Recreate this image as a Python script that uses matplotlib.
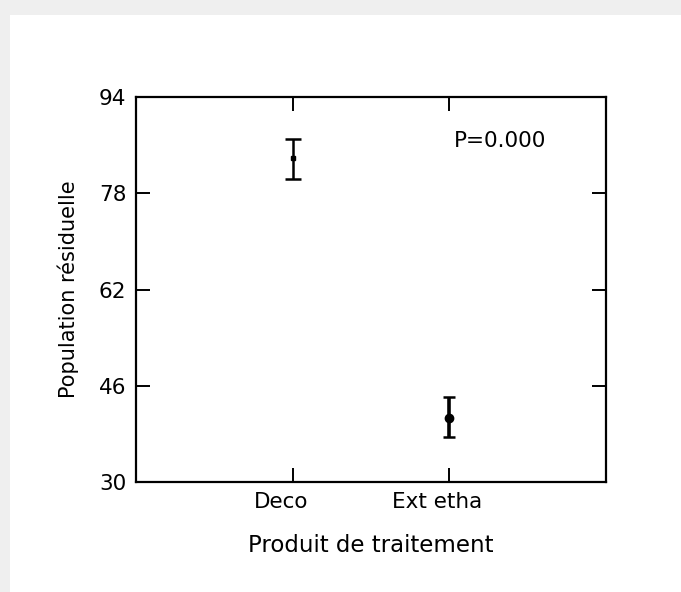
import numpy as np
import matplotlib.pyplot as plt
import matplotlib.transforms as mtransforms
from matplotlib.patches import Rectangle

# data
produits = ['Deco', 'Ext etha']
moyennes = [83.9, 40.6]
err_haut = [3.1, 3.5]
err_bas = [3.5, 3.1]
yticks = [30, 46, 62, 78, 94]

plt.rcParams['font.family'] = ['DejaVu Sans']

fig = plt.figure(figsize=(6.81, 5.92), dpi=100)
fig.patch.set_facecolor('#efefef')
# white card behind the chart
fig.patches.append(Rectangle((10/681, 0), 1.0, 1 - 15/592, transform=fig.transFigure,
                             facecolor='white', edgecolor='none', zorder=-10))

ax = fig.add_axes([136/681, 1 - 482/592, 470/681, 385/592])
x = np.arange(1, len(produits) + 1)

ax.errorbar(x[0], moyennes[0], yerr=[[err_bas[0]], [err_haut[0]]], fmt='s', ms=3.5,
            color='black', ecolor='black', elinewidth=1.8, capsize=5.5, capthick=1.8)
ax.errorbar(x[1], moyennes[1], yerr=[[err_bas[1]], [err_haut[1]]], fmt='o', ms=6,
            color='black', ecolor='black', elinewidth=2.6, capsize=4, capthick=1.8)

ax.set_xlim(0, 3)
ax.set_ylim(30, 94)
ax.set_xticks(x)
ax.set_xticklabels(produits)
ax.set_yticks(yticks)
ax.tick_params(direction='in', length=10, width=1.4, top=True, right=True,
               labelsize=15.5, pad=7)
for s in ax.spines.values():
    s.set_linewidth(1.6)

# category labels sit a little left of their ticks in the original
shift = mtransforms.ScaledTranslation(-12/100, 0, fig.dpi_scale_trans)
for lab in ax.get_xticklabels():
    lab.set_transform(lab.get_transform() + shift)

ax.set_xlabel('Produit de traitement', fontsize=16.5, labelpad=16)
ax.set_ylabel('Population résiduelle', fontsize=15, labelpad=14)

ax.text(2.03, 86.7, 'P=0.000', fontsize=15.5, va='center', ha='left')

plt.savefig('out.png', dpi=100, facecolor=fig.get_facecolor())
